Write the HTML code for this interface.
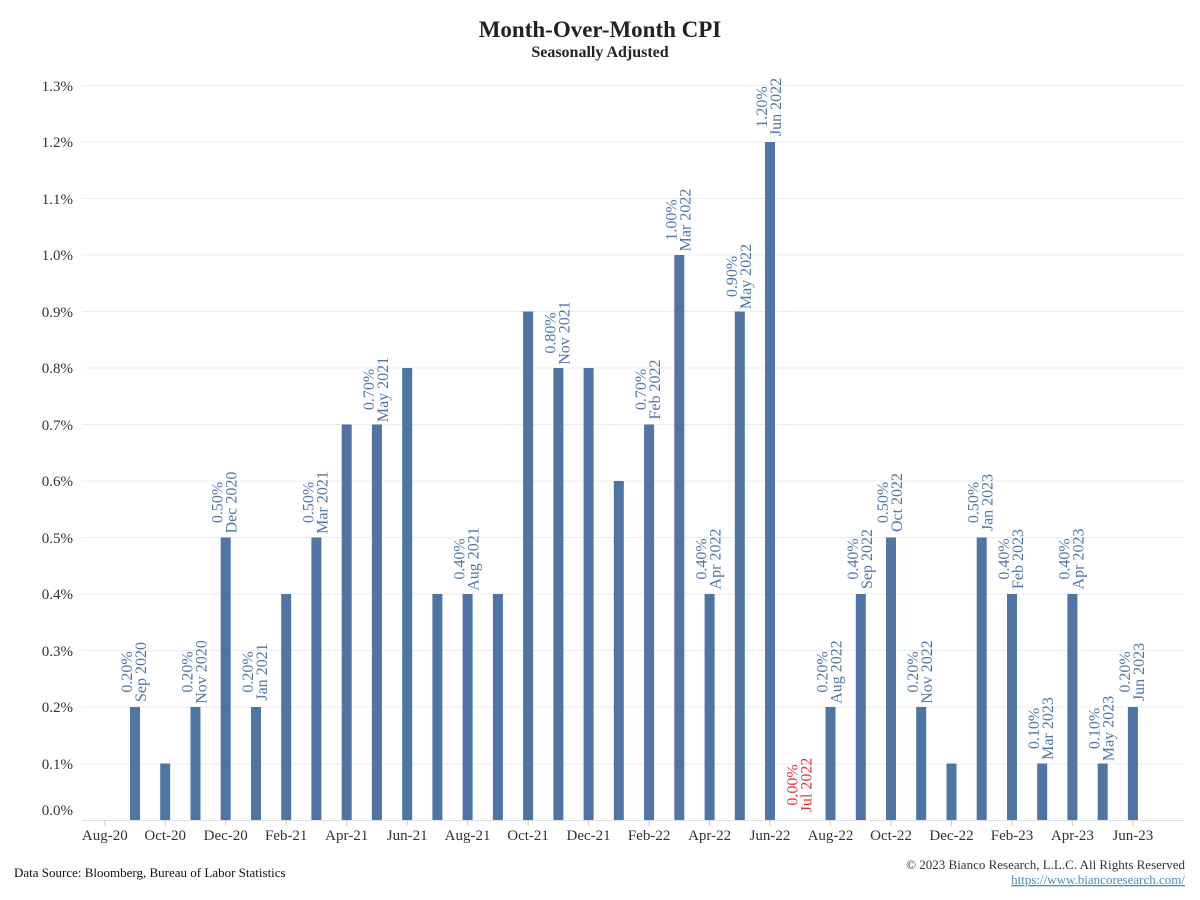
<!DOCTYPE html>
<html><head><meta charset="utf-8"><style>
body{margin:0;background:#fff}
svg{display:block;font-family:"Liberation Serif",serif}
.y{font-size:15px;fill:#333;text-anchor:end}
.x{font-size:15px;fill:#333;text-anchor:middle}
.l{font-size:16px;fill:#4e75a6;text-anchor:middle}
.r{fill:#e0303a}
</style></head><body>
<svg width="1200" height="900" xmlns="http://www.w3.org/2000/svg">
<text x="600" y="37" text-anchor="middle" font-size="23" font-weight="bold" fill="#222">Month-Over-Month CPI</text>
<text x="600" y="57" text-anchor="middle" font-size="16" font-weight="bold" fill="#222">Seasonally Adjusted</text>
<g stroke="#ececec" stroke-width="1">
<line x1="82" x2="1185" y1="820.5" y2="820.5" stroke="#ddd"/>
<line x1="82" x2="1185" y1="764" y2="764"/><line x1="82" x2="1185" y1="707" y2="707"/>
<line x1="82" x2="1185" y1="650.5" y2="650.5"/><line x1="82" x2="1185" y1="594" y2="594"/>
<line x1="82" x2="1185" y1="537.5" y2="537.5"/><line x1="82" x2="1185" y1="481" y2="481"/>
<line x1="82" x2="1185" y1="424.5" y2="424.5"/><line x1="82" x2="1185" y1="368" y2="368"/>
<line x1="82" x2="1185" y1="311.5" y2="311.5"/><line x1="82" x2="1185" y1="255" y2="255"/>
<line x1="82" x2="1185" y1="198.5" y2="198.5"/><line x1="82" x2="1185" y1="142" y2="142"/>
<line x1="82" x2="1185" y1="85.5" y2="85.5"/>
</g>
<g class="y">
<text x="73" y="815">0.0%</text><text x="73" y="769">0.1%</text><text x="73" y="712">0.2%</text>
<text x="73" y="656">0.3%</text><text x="73" y="599">0.4%</text><text x="73" y="543">0.5%</text>
<text x="73" y="486">0.6%</text><text x="73" y="430">0.7%</text><text x="73" y="373">0.8%</text>
<text x="73" y="317">0.9%</text><text x="73" y="260">1.0%</text><text x="73" y="204">1.1%</text>
<text x="73" y="147">1.2%</text><text x="73" y="91">1.3%</text>
</g>
<g fill="#4e75a3">
<rect x="130" y="707" width="10" height="113"/>
<rect x="160.2" y="763.5" width="10" height="56.5"/>
<rect x="190.5" y="707" width="10" height="113"/>
<rect x="220.7" y="537.5" width="10" height="282.5"/>
<rect x="251" y="707" width="10" height="113"/>
<rect x="281.2" y="594" width="10" height="226"/>
<rect x="311.4" y="537.5" width="10" height="282.5"/>
<rect x="341.7" y="424.5" width="10" height="395.5"/>
<rect x="371.9" y="424.5" width="10" height="395.5"/>
<rect x="402.2" y="368" width="10" height="452"/>
<rect x="432.4" y="594" width="10" height="226"/>
<rect x="462.6" y="594" width="10" height="226"/>
<rect x="492.9" y="594" width="10" height="226"/>
<rect x="523.1" y="311.5" width="10" height="508.5"/>
<rect x="553.4" y="368" width="10" height="452"/>
<rect x="583.6" y="368" width="10" height="452"/>
<rect x="613.8" y="481" width="10" height="339"/>
<rect x="644.1" y="424.5" width="10" height="395.5"/>
<rect x="674.3" y="255" width="10" height="565"/>
<rect x="704.6" y="594" width="10" height="226"/>
<rect x="734.8" y="311.5" width="10" height="508.5"/>
<rect x="765" y="142" width="10" height="678"/>
<rect x="825.5" y="707" width="10" height="113"/>
<rect x="855.8" y="594" width="10" height="226"/>
<rect x="886" y="537.5" width="10" height="282.5"/>
<rect x="916.2" y="707" width="10" height="113"/>
<rect x="946.5" y="763.5" width="10" height="56.5"/>
<rect x="976.7" y="537.5" width="10" height="282.5"/>
<rect x="1007" y="594" width="10" height="226"/>
<rect x="1037.2" y="763.5" width="10" height="56.5"/>
<rect x="1067.4" y="594" width="10" height="226"/>
<rect x="1097.7" y="763.5" width="10" height="56.5"/>
<rect x="1127.9" y="707" width="10" height="113"/>
</g>
<g stroke="#ccc">
<line x1="104.8" x2="104.8" y1="820" y2="826"/><line x1="165.2" x2="165.2" y1="820" y2="826"/>
<line x1="225.7" x2="225.7" y1="820" y2="826"/><line x1="286.2" x2="286.2" y1="820" y2="826"/>
<line x1="346.7" x2="346.7" y1="820" y2="826"/><line x1="407.2" x2="407.2" y1="820" y2="826"/>
<line x1="467.6" x2="467.6" y1="820" y2="826"/><line x1="528.1" x2="528.1" y1="820" y2="826"/>
<line x1="588.6" x2="588.6" y1="820" y2="826"/><line x1="649.1" x2="649.1" y1="820" y2="826"/>
<line x1="709.6" x2="709.6" y1="820" y2="826"/><line x1="770" x2="770" y1="820" y2="826"/>
<line x1="830.5" x2="830.5" y1="820" y2="826"/><line x1="891" x2="891" y1="820" y2="826"/>
<line x1="951.5" x2="951.5" y1="820" y2="826"/><line x1="1012" x2="1012" y1="820" y2="826"/>
<line x1="1072.4" x2="1072.4" y1="820" y2="826"/><line x1="1132.9" x2="1132.9" y1="820" y2="826"/>
</g>
<g class="x">
<text x="104.8" y="840">Aug-20</text><text x="165.2" y="840">Oct-20</text><text x="225.7" y="840">Dec-20</text>
<text x="286.2" y="840">Feb-21</text><text x="346.7" y="840">Apr-21</text><text x="407.2" y="840">Jun-21</text>
<text x="467.6" y="840">Aug-21</text><text x="528.1" y="840">Oct-21</text><text x="588.6" y="840">Dec-21</text>
<text x="649.1" y="840">Feb-22</text><text x="709.6" y="840">Apr-22</text><text x="770" y="840">Jun-22</text>
<text x="830.5" y="840">Aug-22</text><text x="891" y="840">Oct-22</text><text x="951.5" y="840">Dec-22</text>
<text x="1012" y="840">Feb-23</text><text x="1072.4" y="840">Apr-23</text><text x="1132.9" y="840">Jun-23</text>
</g>
<g class="l">
<text transform="translate(132,672) rotate(-90)">0.20%</text><text transform="translate(146,672) rotate(-90)">Sep 2020</text>
<text transform="translate(192.5,672) rotate(-90)">0.20%</text><text transform="translate(206.5,672) rotate(-90)">Nov 2020</text>
<text transform="translate(222.7,502.5) rotate(-90)">0.50%</text><text transform="translate(236.7,502.5) rotate(-90)">Dec 2020</text>
<text transform="translate(253,672) rotate(-90)">0.20%</text><text transform="translate(267,672) rotate(-90)">Jan 2021</text>
<text transform="translate(313.4,502.5) rotate(-90)">0.50%</text><text transform="translate(327.4,502.5) rotate(-90)">Mar 2021</text>
<text transform="translate(373.9,389.5) rotate(-90)">0.70%</text><text transform="translate(387.9,389.5) rotate(-90)">May 2021</text>
<text transform="translate(464.6,559) rotate(-90)">0.40%</text><text transform="translate(478.6,559) rotate(-90)">Aug 2021</text>
<text transform="translate(555.4,333) rotate(-90)">0.80%</text><text transform="translate(569.4,333) rotate(-90)">Nov 2021</text>
<text transform="translate(646.1,389.5) rotate(-90)">0.70%</text><text transform="translate(660.1,389.5) rotate(-90)">Feb 2022</text>
<text transform="translate(676.3,220) rotate(-90)">1.00%</text><text transform="translate(690.3,220) rotate(-90)">Mar 2022</text>
<text transform="translate(706.6,559) rotate(-90)">0.40%</text><text transform="translate(720.6,559) rotate(-90)">Apr 2022</text>
<text transform="translate(736.8,276.5) rotate(-90)">0.90%</text><text transform="translate(750.8,276.5) rotate(-90)">May 2022</text>
<text transform="translate(767,107) rotate(-90)">1.20%</text><text transform="translate(781,107) rotate(-90)">Jun 2022</text>
<text class="r" transform="translate(797.3,785) rotate(-90)">0.00%</text><text class="r" transform="translate(811.3,785) rotate(-90)">Jul 2022</text>
<text transform="translate(827.5,672) rotate(-90)">0.20%</text><text transform="translate(841.5,672) rotate(-90)">Aug 2022</text>
<text transform="translate(857.8,559) rotate(-90)">0.40%</text><text transform="translate(871.8,559) rotate(-90)">Sep 2022</text>
<text transform="translate(888,502.5) rotate(-90)">0.50%</text><text transform="translate(902,502.5) rotate(-90)">Oct 2022</text>
<text transform="translate(918.2,672) rotate(-90)">0.20%</text><text transform="translate(932.2,672) rotate(-90)">Nov 2022</text>
<text transform="translate(978.7,502.5) rotate(-90)">0.50%</text><text transform="translate(992.7,502.5) rotate(-90)">Jan 2023</text>
<text transform="translate(1009,559) rotate(-90)">0.40%</text><text transform="translate(1023,559) rotate(-90)">Feb 2023</text>
<text transform="translate(1039.2,728.5) rotate(-90)">0.10%</text><text transform="translate(1053.2,728.5) rotate(-90)">Mar 2023</text>
<text transform="translate(1069.4,559) rotate(-90)">0.40%</text><text transform="translate(1083.4,559) rotate(-90)">Apr 2023</text>
<text transform="translate(1099.7,728.5) rotate(-90)">0.10%</text><text transform="translate(1113.7,728.5) rotate(-90)">May 2023</text>
<text transform="translate(1129.9,672) rotate(-90)">0.20%</text><text transform="translate(1143.9,672) rotate(-90)">Jun 2023</text>
</g>
<text x="14" y="877" font-size="13" fill="#111">Data Source: Bloomberg, Bureau of Labor Statistics</text>
<text x="1185" y="869" font-size="13" fill="#333" text-anchor="end">© 2023 Bianco Research, L.L.C. All Rights Reserved</text>
<text x="1185" y="884" font-size="13" fill="#4a8fb8" text-anchor="end" text-decoration="underline">https://www.biancoresearch.com/</text>
</svg>
</body></html>
